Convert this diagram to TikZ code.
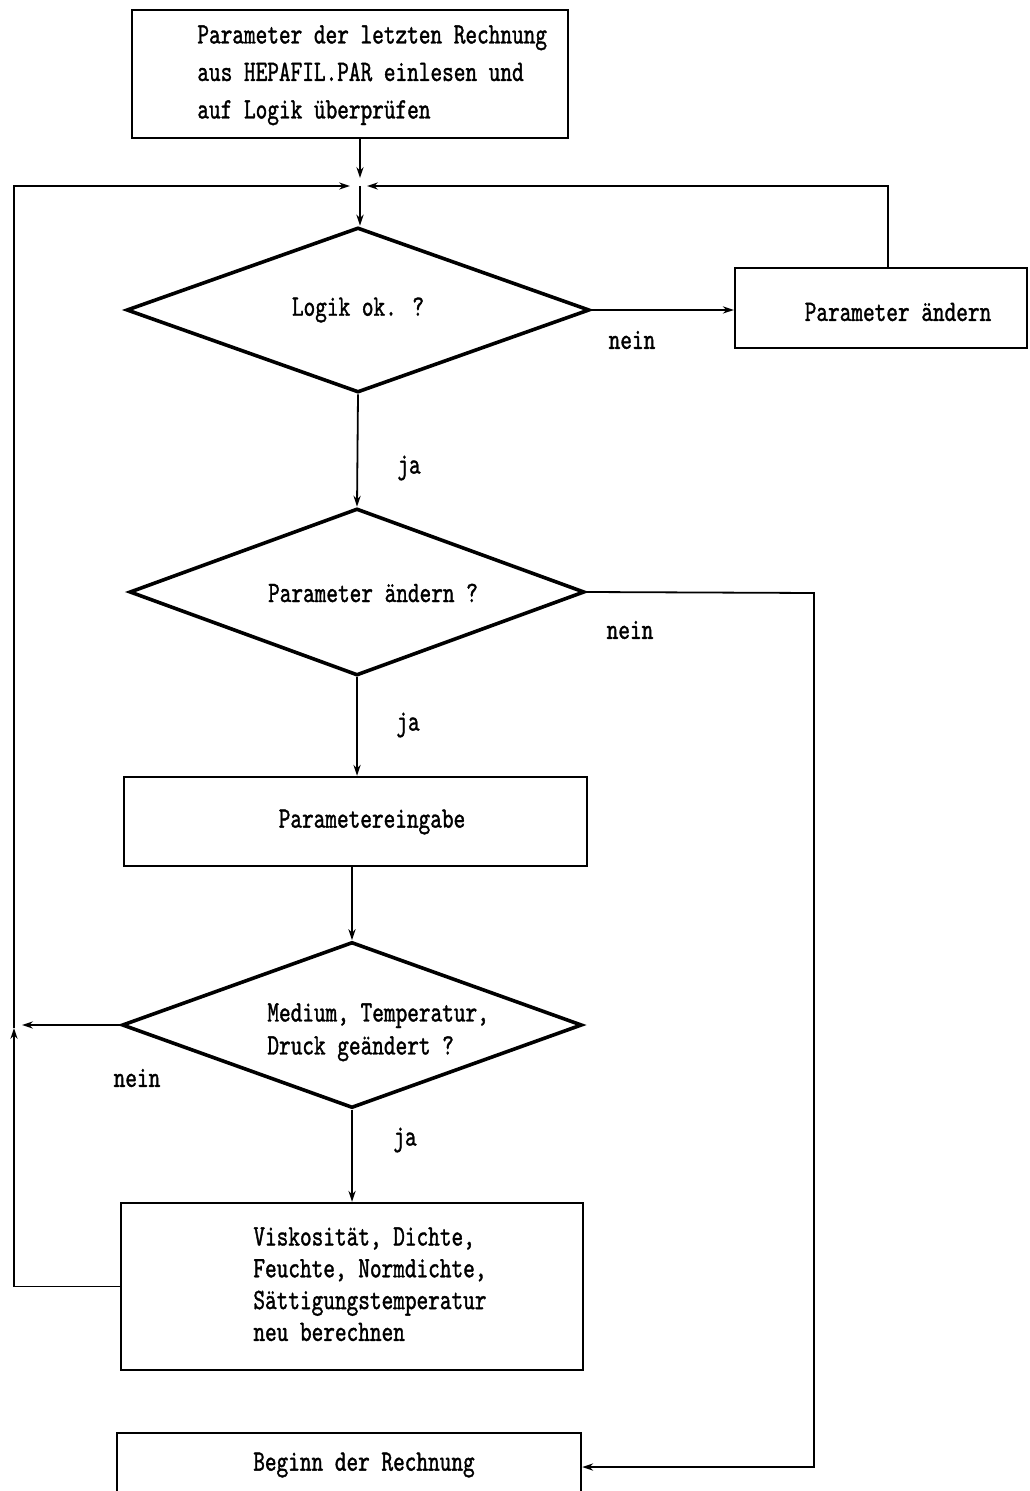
\documentclass[tikz,border=0pt]{standalone}
\usepackage{fontspec}
\newfontfamily\tfont{lmmono10-regular}[Extension=.otf, FakeStretch=0.75, FakeBold=1.2]
\usetikzlibrary{shapes.geometric, arrows.meta}
\begin{document}
\begin{tikzpicture}[x=0.5pt,y=-0.5pt,
  boxnode/.style={draw, line width=1.2pt, inner sep=0pt},
  dia/.style={draw, diamond, line width=1.8pt, inner sep=0pt},
  txt/.style={inner sep=0pt, align=left, anchor=north west},
  lbl/.style={inner sep=0pt, font=\tfont\fontsize{14.8}{18}\selectfont},
  conn/.style={line width=0.9pt, -{Stealth[length=5.5pt,width=3.6pt]}},
  plain/.style={line width=0.9pt}]
\clip (0,0) rectangle (1029,1491);

% boxes and decisions
\node[boxnode, minimum width=218pt, minimum height=64pt] (top) at (350,74) {};
\node[txt, font=\tfont\fontsize{14.8}{18.75}\selectfont] (toptext) at (197,25)
  {Parameter der letzten Rechnung\\aus HEPAFIL.PAR einlesen und\\auf Logik überprüfen};

\node[dia, minimum width=231.5pt, minimum height=82.5pt] (d1) at (358,310) {};
\node[lbl] (d1text) at (358,310) {Logik ok. ?};

\node[boxnode, minimum width=146pt, minimum height=40pt] (pa) at (881,308) {};
\node[lbl] (patext) at (898,312) {Parameter ändern};

\node[dia, minimum width=227.5pt, minimum height=83.5pt] (d2) at (357,592) {};
\node[lbl] (d2text) at (373,593) {Parameter ändern ?};

\node[boxnode, minimum width=231.5pt, minimum height=44.5pt] (pe) at (355.5,821.5) {};
\node[lbl] (petext) at (372,822) {Parametereingabe};

\node[dia, minimum width=230pt, minimum height=83pt] (d3) at (352,1025) {};
\node[txt, font=\tfont\fontsize{14.8}{16.5}\selectfont] (d3text) at (267,1003)
  {Medium, Temperatur,\\Druck geändert ?};

\node[boxnode, minimum width=231pt, minimum height=83.5pt] (vk) at (352,1286.5) {};
\node[txt, font=\tfont\fontsize{14.8}{15.9}\selectfont] (vktext) at (253,1227)
  {Viskosität, Dichte,\\Feuchte, Normdichte,\\Sättigungstemperatur\\neu berechnen};

\node[boxnode, minimum width=232pt, minimum height=43.5pt] (bg) at (349,1476.5) {};
\node[lbl] (bgtext) at (364,1465) {Beginn der Rechnung};

% labels
\node[lbl] (n1) at (632,340) {nein};
\node[lbl] (n2) at (630,630) {nein};
\node[lbl] (n3) at (137,1078) {nein};
\node[lbl] (j1) at (409,468) {ja};
\node[lbl] (j2) at (408,725) {ja};
\node[lbl] (j3) at (405,1140) {ja};

% helper coordinates
\coordinate (J) at (360,186);
\coordinate (L0) at (14,1025);
\coordinate (LM) at (14,1028);
\coordinate (R1) at (814,593);
\coordinate (R2) at (814,1467);

% connectors
\draw[conn, shorten >=4pt] (top.south -| J) -- (J);
\draw[conn] (J) -- (J |- d1.north);
\draw[conn] (d1.east) -- (d1.east -| pa.west);
\draw[conn, shorten >=3.5pt] ([xshift=3.5pt]pa.north) |- (J);
\draw[conn] (d1.south) -- (d2.north);
\draw[conn] (d2.east) -- (R1) -- (R2) -- (R2 -| bg.east);
\draw[conn] (d2.south) -- (d2.south |- pe.north);
\draw[conn] (pe.south -| d3.north) -- (d3.north);
\draw[conn, shorten >=4pt] (d3.west) -- (L0);
\draw[conn] (d3.south) -- (d3.south |- vk.north);
\draw[conn] (vk.west) -- (vk.west -| L0) -- (LM);
\draw[conn, shorten >=5pt] (LM) -- (J -| L0) -- (J);
\end{tikzpicture}
\end{document}
